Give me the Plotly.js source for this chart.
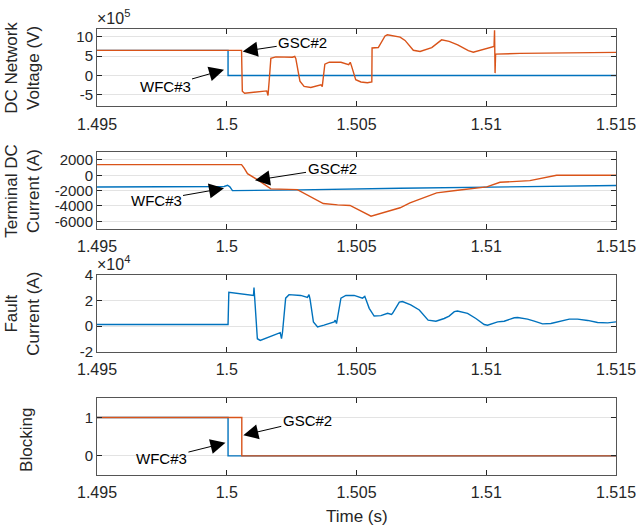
<!DOCTYPE html>
<html>
<head>
<meta charset="utf-8">
<script src="https://cdn.plot.ly/plotly-3.0.1.min.js"></script>
<style>html,body{margin:0;padding:0;background:#fff;}#chart{width:636px;height:529px;}</style>
</head>
<body>
<div id="chart"></div>
<script>
// ---- Data ----
// Panel 1: DC network voltage, units of 1e5 V
const tVoltGSC = [1.495, 1.50057, 1.50060, 1.50069, 1.50154, 1.50159, 1.50164, 1.50170, 1.50189, 1.50253,
  1.50262, 1.50266, 1.50282, 1.50298, 1.50324, 1.50363, 1.50368, 1.50372, 1.50378, 1.50395,
  1.50440, 1.50470, 1.50476, 1.50481, 1.50497, 1.50517, 1.50542, 1.50559, 1.50560, 1.50584,
  1.50610, 1.50619, 1.50668, 1.50687, 1.50719, 1.50745, 1.50790, 1.50828, 1.50857, 1.50890,
  1.50931, 1.50950, 1.50983, 1.51015, 1.51030, 1.51032, 1.51034, 1.51036, 1.51130, 1.51500];
const voltGSC = [6.47, 6.47, -4.1, -4.6, -4.0, -5.2, -1.0, 4.4, 4.8, 4.7,
  4.9, 4.4, -1.5, -2.85, -3.1, -2.4, -2.9, -1.0, 2.9, 3.45,
  3.4, 2.8, 3.4, 2.4, -1.1, -1.7, -1.9, -1.7, 7.1, 7.2,
  10.2, 10.5, 9.9, 9.05, 6.5, 6.2, 7.2, 9.2, 8.8, 7.9,
  6.4, 6.0, 6.6, 7.1, 7.5, 11.7, 0.6, 5.5, 5.7, 5.95];
const tVoltWFC = [1.495, 1.50005, 1.50005, 1.515];
const voltWFC = [6.47, 6.47, 0, 0];

// Panel 2: terminal DC current (A)
const tCurGSC = [1.495, 1.50057, 1.50067, 1.50080, 1.50118, 1.50170, 1.50272, 1.50372, 1.50427, 1.50475,
  1.50556, 1.50668, 1.50706, 1.50809, 1.50890, 1.51002, 1.51053, 1.51168, 1.51271, 1.515];
const curGSC = [1400, 1400, 950, 216, -563, -1775, -1860, -3675, -3850, -3935,
  -5325, -4234, -3584, -2286, -1948, -1506, -909, -688, 0, 0];
const tCurWFC = [1.495, 1.4999, 1.50003, 1.50012, 1.50022, 1.5017, 1.50282, 1.50668, 1.51002, 1.51465, 1.515];
const curWFC = [-1520, -1450, -1300, -1500, -1990, -1950, -1900, -1688, -1506, -1338, -1330];

// Panel 3: fault current, units of 1e4 A
const tFault = [1.495, 1.50005, 1.50008, 1.50103, 1.50105, 1.50108, 1.50118, 1.50129, 1.50206, 1.50211,
  1.50215, 1.50227, 1.50240, 1.50285, 1.50311, 1.50317, 1.50321, 1.50334, 1.50350, 1.50375,
  1.50414, 1.50418, 1.50423, 1.50440, 1.50459, 1.50491, 1.50523, 1.50532, 1.50549, 1.50568,
  1.50594, 1.50620, 1.50635, 1.50639, 1.50665, 1.50677, 1.50709, 1.50742, 1.50776, 1.50806,
  1.50838, 1.50857, 1.50877, 1.50889, 1.50928, 1.50960, 1.50992, 1.51005, 1.51044, 1.51069,
  1.51108, 1.51121, 1.51159, 1.51185, 1.51217, 1.51249, 1.51281, 1.51320, 1.51352, 1.51391,
  1.51429, 1.51468, 1.515];
const fault = [0.13, 0.13, 2.63, 2.39, 3.0, 2.0, -0.97, -1.1, -0.5, -0.97,
  -0.45, 2.18, 2.45, 2.39, 2.24, 2.45, 2.1, 0.34, -0.05, 0.08,
  0.34, 0.47, 0.21, 2.18, 2.39, 2.39, 2.18, 2.32, 1.39, 0.79,
  0.82, 1.0, 0.92, 1.0, 1.87, 1.92, 1.66, 1.26, 0.47, 0.39,
  0.6, 0.79, 1.13, 1.18, 1.0, 0.6, 0.13, 0.08, 0.34, 0.39,
  0.66, 0.68, 0.55, 0.39, 0.18, 0.21, 0.34, 0.55, 0.55, 0.45,
  0.29, 0.26, 0.34];

// Panel 4: blocking signals
const tBlockWFC = [1.495, 1.50005, 1.50005, 1.515];
const blockWFC = [1, 1, 0, 0];
const tBlockGSC = [1.495, 1.50058, 1.50058, 1.515];
const blockGSC = [1, 1, 0, 0];

// Tick labels
const xTicks = [1.495, 1.5, 1.505, 1.51, 1.515];
const xTickText = ['1.495', '1.5', '1.505', '1.51', '1.515'];
const y1Ticks = [-5, 0, 5, 10];
const y1Text = ['-5', '0', '5', '10'];
const y2Ticks = [-6000, -4000, -2000, 0, 2000];
const y2Text = ['-6000', '-4000', '-2000', '0', '2000'];
const y3Ticks = [-2, 0, 2, 4];
const y3Text = ['-2', '0', '2', '4'];
const y4Ticks = [0, 1];
const y4Text = ['0', '1'];

// ---- Styling ----
const BLUE = '#0072BD', ORANGE = '#D95319';
const FONT = '"Liberation Sans", Arial, Helvetica, sans-serif';
const LW = 1.4;

function line(x, y, color, xa, ya) {
  return {x: x, y: y, type: 'scatter', mode: 'lines', xaxis: xa, yaxis: ya,
          line: {color: color, width: LW}, hoverinfo: 'skip', showlegend: false};
}

const data = [
  line(tVoltWFC, voltWFC, BLUE, 'x', 'y'),
  line(tVoltGSC, voltGSC, ORANGE, 'x', 'y'),
  line(tCurWFC, curWFC, BLUE, 'x2', 'y2'),
  line(tCurGSC, curGSC, ORANGE, 'x2', 'y2'),
  line(tFault, fault, BLUE, 'x3', 'y3'),
  line(tBlockWFC, blockWFC, BLUE, 'x4', 'y4'),
  line(tBlockGSC, blockGSC, ORANGE, 'x4', 'y4')
];

function xax(anchor) {
  return {anchor: anchor, domain: [0, 1], range: [1.495, 1.515], tickmode: 'array',
    tickvals: xTicks, ticktext: xTickText, ticks: 'inside', ticklen: 5, tickcolor: '#262626',
    showline: true, linecolor: '#555', linewidth: 1, mirror: 'ticks', showgrid: false,
    zeroline: false, ticklabelstandoff: 3, ticklabeloverflow: 'allow',
    tickfont: {family: FONT, size: 16, color: '#262626'}, fixedrange: true};
}
function yax(anchor, domain, range, vals, text) {
  return {anchor: anchor, domain: domain, range: range, tickmode: 'array', tickvals: vals,
    ticktext: text, ticks: 'inside', ticklen: 5, tickcolor: '#262626', showline: true,
    linecolor: '#555', linewidth: 1, mirror: 'ticks', showgrid: true, gridcolor: '#e3e3e3',
    gridwidth: 1, zeroline: false, tickfont: {family: FONT, size: 15, color: '#262626'},
    fixedrange: true};
}

function arrow(xr, yr, x, y, ax, ay, text) {
  return {xref: xr, yref: yr, x: x, y: y, ax: ax, ay: ay, text: text, showarrow: true,
    arrowhead: 2, arrowsize: 3, arrowwidth: 1, arrowcolor: '#000',
    font: {family: FONT, size: 15, color: '#000'}};
}
function ytitle(x, y, text) {
  return {xref: 'paper', yref: 'paper', x: x, y: y, text: text, showarrow: false,
    textangle: -90, xanchor: 'center', yanchor: 'middle', borderpad: 0,
    font: {family: FONT, size: 17, color: '#262626'}};
}

const annotations = [
  arrow('x', 'y', 1.500615, 6.2, 60, -9, 'GSC#2'),
  arrow('x', 'y', 1.499895, 1.47, -59, 17, 'WFC#3'),
  arrow('x2', 'y2', 1.501089, -650, 77, -12, 'GSC#2'),
  arrow('x2', 'y2', 1.499895, -1688, -68, 12, 'WFC#3'),
  arrow('x4', 'y4', 1.500638, 0.538, 64, -15, 'GSC#2'),
  arrow('x4', 'y4', 1.49995, 0.34, -64, 16, 'WFC#3'),
  ytitle(-0.1425, 0.9132, 'DC Network<br>Voltage (V)'),
  ytitle(-0.1425, 0.6374, 'Terminal DC<br>Current (A)'),
  ytitle(-0.1425, 0.3617, 'Fault<br>Current (A)'),
  ytitle(-0.1348, 0.0788, 'Blocking'),
  {xref: 'paper', yref: 'paper', x: 0.5, y: -0.0928, text: 'Time (s)', showarrow: false,
   xanchor: 'center', yanchor: 'middle', font: {family: FONT, size: 17, color: '#262626'}},
  {xref: 'paper', yref: 'paper', x: -0.004, y: 1.0, text: '×10<sup>5</sup>', showarrow: false,
   xanchor: 'left', yanchor: 'bottom', font: {family: FONT, size: 16, color: '#262626'}},
  {xref: 'paper', yref: 'paper', x: -0.004, y: 0.4491, text: '×10<sup>4</sup>', showarrow: false,
   xanchor: 'left', yanchor: 'bottom', font: {family: FONT, size: 16, color: '#262626'}}
];

const layout = {
  width: 636, height: 529,
  margin: {l: 97, r: 20, t: 29, b: 54},
  paper_bgcolor: '#fff', plot_bgcolor: '#fff',
  showlegend: false,
  xaxis: xax('y'), xaxis2: xax('y2'), xaxis3: xax('y3'), xaxis4: xax('y4'),
  yaxis: yax('x', [0.8265, 1], [-8, 12], y1Ticks, y1Text),
  yaxis2: yax('x2', [0.5516, 0.7235], [-7000, 3000], y2Ticks, y2Text),
  yaxis3: yax('x3', [0.2758, 0.4491], [-2, 4], y3Ticks, y3Text),
  yaxis4: yax('x4', [0, 0.1717], [-0.5, 1.5], y4Ticks, y4Text),
  annotations: annotations
};

Plotly.newPlot('chart', data, layout, {displayModeBar: false, staticPlot: true});
</script>
</body>
</html>
